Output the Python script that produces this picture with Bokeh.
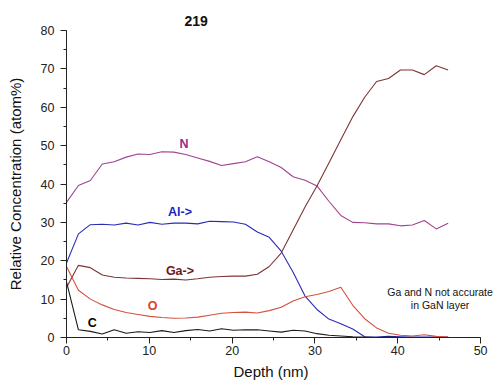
from bokeh.plotting import figure
from bokeh.models import Range1d, SingleIntervalTicker, Label, ColumnDataSource, Title
from bokeh.embed import file_html
from bokeh.resources import INLINE

depth = [0.0, 1.44, 2.88, 4.32, 5.76, 7.2, 8.64, 10.08, 11.52, 12.96, 14.4, 15.84, 17.28,
         18.72, 20.16, 21.6, 23.04, 24.48, 25.92, 27.36, 28.8, 30.24, 31.68, 33.12, 34.56,
         36.0, 37.44, 38.88, 40.32, 41.76, 43.2, 44.64, 46.08]

n_vals = [35.2, 39.6, 40.9, 45.2, 45.8, 47.0, 47.8, 47.7, 48.4, 48.3, 47.7, 46.8, 45.9,
          44.8, 45.3, 45.8, 47.1, 45.8, 44.3, 41.9, 41.0, 39.5, 35.5, 31.8, 30.0,
          29.9, 29.6, 29.6, 29.1, 29.3, 30.5, 28.3, 29.8]

al_vals = [19.4, 27.0, 29.4, 29.5, 29.3, 29.8, 29.3, 30.0, 29.5, 29.8, 29.8, 29.6, 30.3,
           30.2, 30.1, 29.5, 27.5, 26.1, 22.5, 17.0, 10.8, 7.3, 4.8, 3.6, 2.2,
           0.2, 0.1, 0.3, 0.2, 0.1, 0.1, 0.1, 0.1]

ga_vals = [13.0, 18.8, 18.2, 16.3, 15.7, 15.5, 15.4, 15.3, 15.1, 15.2, 15.0, 15.3, 15.7,
           15.9, 16.0, 16.0, 16.5, 18.5, 22.0, 28.0, 34.0, 39.5, 45.5, 51.5, 57.5,
           62.6, 66.7, 67.5, 69.7, 69.7, 68.5, 70.8, 69.7]

o_vals = [18.5, 12.3, 10.0, 8.5, 7.3, 6.5, 6.0, 5.5, 5.2, 5.0, 5.1, 5.3, 5.8,
          6.3, 6.5, 6.6, 6.4, 7.0, 7.9, 9.5, 10.6, 11.2, 12.0, 13.1, 8.4,
          4.9, 2.5, 1.1, 0.6, 0.4, 0.7, 0.3, 0.1]

c_vals = [14.5, 2.0, 1.6, 0.9, 2.0, 1.1, 1.5, 1.3, 1.8, 1.3, 1.8, 2.1, 1.7,
          2.3, 1.9, 2.0, 2.0, 1.7, 1.4, 1.9, 1.7, 1.0, 0.6, 0.4, 0.2,
          0.1, 0.0, 0.1, 0.0, 0.0, 0.0, 0.0, 0.0]

series_names = ["N", "Al", "Ga", "O", "C"]
line_colors = ["#a0448f", "#2b2bb8", "#7e3434", "#d4503f", "#1a1a1a"]

label_texts = ["N", "Al->", "Ga->", "O", "C"]
label_x = [14.2, 13.7, 13.7, 10.4, 3.1]
label_y = [50.3, 32.8, 17.2, 8.1, 3.9]
label_colors = ["#9b2a8e", "#1f1fbf", "#6a1a1a", "#e0402a", "#000000"]

title_text = "219"
x_label = "Depth (nm)"
y_label = "Relative Concentration (atom%)"
note_lines = ["Ga and N not accurate", "in GaN layer"]

font = "Liberation Sans"

# x scale kept at 0..50 over 66..480 px; range extended so the note is not clipped
p = figure(width=500, height=388, output_backend="svg", toolbar_location=None,
           x_range=Range1d(0, 52.4), y_range=Range1d(0, 80),
           min_border_left=66, min_border_right=0, min_border_top=30, min_border_bottom=51,
           title=title_text)
p.outline_line_color = None
p.xgrid.visible = False
p.ygrid.visible = False
p.background_fill_color = "white"

p.title.align = "left"
p.title.offset = 118
p.title.standoff = 9
p.title.text_font = font
p.title.text_font_size = "14px"
p.title.text_font_style = "bold"
p.title.text_color = "#111111"

src = ColumnDataSource(dict(depth=depth, N=n_vals, Al=al_vals, Ga=ga_vals, O=o_vals, C=c_vals))
for name, col in zip(series_names, line_colors):
    p.line("depth", name, source=src, line_color=col, line_width=1.1)

for ax in (p.xaxis[0], p.yaxis[0]):
    ax.axis_line_color = "#222222"
    ax.major_tick_line_color = "#222222"
    ax.minor_tick_line_color = "#222222"
    ax.major_tick_out = 6
    ax.major_tick_in = 0
    ax.minor_tick_out = 3
    ax.minor_tick_in = 0
    ax.major_label_text_font = font
    ax.major_label_text_font_size = "12.5px"
    ax.major_label_text_color = "#222222"
    ax.axis_label_text_font = font
    ax.axis_label_text_font_size = "15px"
    ax.axis_label_text_font_style = "normal"
    ax.axis_label_text_color = "#111111"

p.xaxis.bounds = (0, 50)
p.xaxis.ticker = SingleIntervalTicker(interval=10, num_minor_ticks=2)
p.yaxis.ticker = SingleIntervalTicker(interval=10, num_minor_ticks=2)
p.yaxis.axis_label = y_label
p.xaxis.major_label_standoff = 2
p.yaxis.major_label_standoff = 6
p.yaxis.axis_label_standoff = 14

# x axis label as a below-title so it centres on the 0..50 span
xt = Title(text=x_label, align="left", offset=167, standoff=7,
           text_font=font, text_font_size="15px", text_font_style="normal",
           text_color="#111111")
p.add_layout(xt, "below")

for t, x, y, c in zip(label_texts, label_x, label_y, label_colors):
    p.add_layout(Label(x=x, y=y, text=t, text_color=c, text_font=font,
                       text_font_size="12.5px", text_font_style="bold",
                       text_align="center", text_baseline="middle"))

for i, line in enumerate(note_lines):
    p.add_layout(Label(x=45.1, y=11.9 - 3.4 * i, text=line, text_font=font,
                       text_font_size="10.5px", text_align="center", text_baseline="middle",
                       text_color="#111111"))

open("out.html", "w").write(file_html(p, INLINE))
